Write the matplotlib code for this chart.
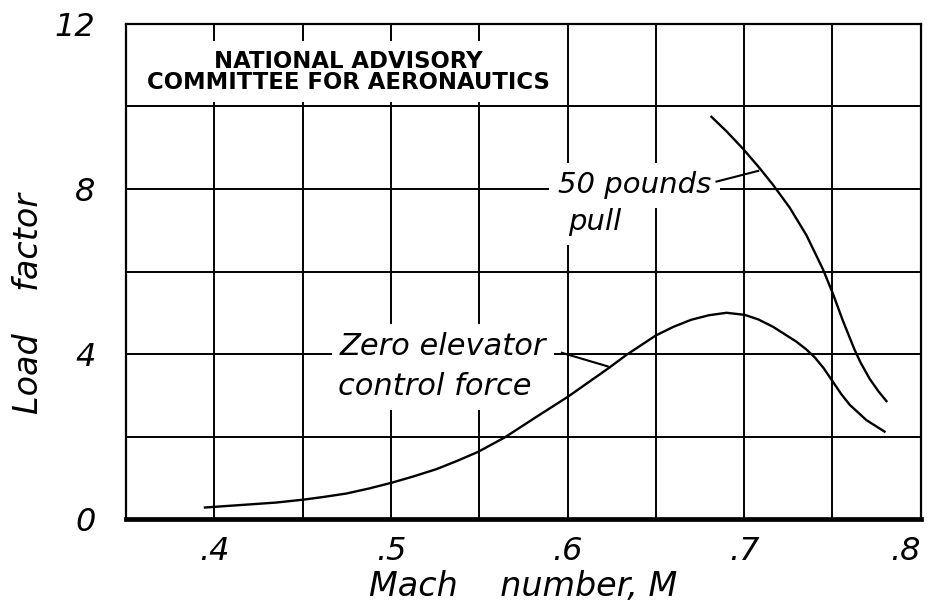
import matplotlib.pyplot as plt
from matplotlib.ticker import MultipleLocator, FixedLocator

# Values.
ZERO_M = [0.3947, 0.4183, 0.435, 0.4504, 0.4625, 0.4749, 0.4875, 0.5004,
          0.5125, 0.5258, 0.5375, 0.5494, 0.5645, 0.5825, 0.6004, 0.6230,
          0.6334, 0.650, 0.660, 0.670, 0.680, 0.690, 0.7003, 0.708, 0.7164,
          0.7296, 0.735, 0.740, 0.745, 0.7504, 0.755, 0.7598, 0.7692, 0.7795]
ZERO_LOAD = [0.28, 0.35, 0.40, 0.47, 0.54, 0.62, 0.74, 0.88,
             1.03, 1.21, 1.41, 1.63, 1.98, 2.48, 2.97, 3.65,
             3.98, 4.45, 4.66, 4.83, 4.94, 5.00, 4.95, 4.84, 4.66,
             4.30, 4.12, 3.92, 3.66, 3.32, 3.03, 2.77, 2.40, 2.12]

PULL_M = [0.6815, 0.690, 0.6995, 0.7089, 0.7164, 0.7258, 0.7353, 0.7447,
          0.7504, 0.7560, 0.7626, 0.766, 0.7711, 0.776, 0.7806]
PULL_LOAD = [9.75, 9.40, 8.97, 8.50, 8.10, 7.55, 6.88, 6.05,
             5.45, 4.80, 4.10, 3.79, 3.40, 3.10, 2.86]

X_TICKS = [0.4, 0.5, 0.6, 0.7, 0.8]
X_TICK_LABELS = [".4", ".5", ".6", ".7", ".8"]
Y_TICKS = [0, 4, 8, 12]
Y_TICK_LABELS = ["0", "4", "8", "12"]

INK = "black"
HAND = {"family": "DejaVu Sans", "style": "italic", "color": INK}

fig = plt.figure(figsize=(9.3, 6.15), dpi=100)
ax = fig.add_axes([0.1355, 0.156, 0.8545, 0.805])

ax.set_xlim(0.35, 0.80)
ax.set_ylim(0, 12)

# grid: every 0.05 in M, every 2 in load factor
ax.xaxis.set_minor_locator(MultipleLocator(0.05))
ax.yaxis.set_minor_locator(MultipleLocator(2))
ax.xaxis.set_major_locator(FixedLocator(X_TICKS))
ax.yaxis.set_major_locator(FixedLocator(Y_TICKS))
ax.set_xticklabels(X_TICK_LABELS)
ax.set_yticklabels(Y_TICK_LABELS)
ax.grid(True, which="both", color=INK, linewidth=1.4)
ax.set_axisbelow(True)
ax.tick_params(which="both", length=0)
ax.tick_params(axis="x", pad=12, labelsize=23)
ax.tick_params(axis="y", pad=22, labelsize=23)
for lab in ax.get_xticklabels() + ax.get_yticklabels():
    lab.set_fontstyle("italic")
ax.get_xticklabels()[-1].set_horizontalalignment("right")

for side in ("top", "right", "left"):
    ax.spines[side].set_linewidth(1.6)
ax.spines["bottom"].set_linewidth(3.4)

ax.plot(ZERO_M, ZERO_LOAD, color=INK, linewidth=1.7, zorder=4,
        solid_joinstyle="round")
ax.plot(PULL_M, PULL_LOAD, color=INK, linewidth=1.7, zorder=4,
        solid_joinstyle="round")

# NACA title block (white box sits over the grid but under the spines)
ax.text(0.4757, 10.84, "NATIONAL ADVISORY\nCOMMITTEE FOR AERONAUTICS",
        ha="center", va="center", fontsize=16.4, fontweight="bold",
        family="DejaVu Sans", linespacing=0.9, zorder=1.5,
        bbox=dict(facecolor="white", edgecolor="none", pad=6))

# curve labels, on white so the grid breaks around them
box = dict(facecolor="white", edgecolor="none", pad=6)
ax.text(0.5945, 7.90, "50 pounds", ha="left", va="baseline", fontsize=21,
        zorder=1.5, bbox=box, **HAND)
ax.text(0.6002, 7.00, "pull", ha="left", va="baseline", fontsize=21,
        zorder=1.5, bbox=box, **HAND)
ax.plot([0.6844, 0.7080], [8.18, 8.44], color=INK, linewidth=1.5, zorder=4)

ax.text(0.4711, 3.98, "Zero elevator", ha="left", va="baseline",
        fontsize=22, zorder=1.5, bbox=box, **HAND)
ax.text(0.4700, 3.00, "control force", ha="left", va="baseline",
        fontsize=22, zorder=1.5, bbox=box, **HAND)
ax.plot([0.5968, 0.6228], [4.03, 3.70], color=INK, linewidth=1.5, zorder=4)

ax.set_xlabel("Mach    number, M", fontsize=24, labelpad=2, **HAND)
ax.set_ylabel("Load    factor", fontsize=24, **HAND)
ax.yaxis.set_label_coords(-0.102, 0.436)

fig.savefig("out.png", facecolor="white")
